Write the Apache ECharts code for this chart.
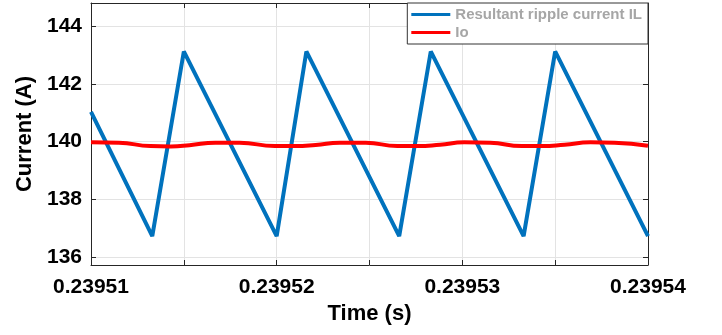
<!DOCTYPE html>
<html>
<head>
<meta charset="utf-8">
<script src="https://cdn.jsdelivr.net/npm/echarts@6/dist/echarts.min.js"></script>
<style>
html, body { margin: 0; padding: 0; background: #fff; }
#chart { width: 722px; height: 335px; }
</style>
</head>
<body>
<div id="chart"></div>
<script>
// ripple current (blue), time in s
var rippleTime = [0.2395100, 0.2395133, 0.2395150, 0.2395200, 0.2395216, 0.2395266, 0.2395283, 0.2395333, 0.2395350, 0.2395400];
var rippleVal = [141.03, 136.72, 143.12, 136.72, 143.12, 136.72, 143.12, 136.72, 143.12, 136.72];

// output current Io (red)
var ioTime = [0.2395100, 0.2395115, 0.2395132, 0.2395143, 0.2395153, 0.2395167, 0.2395180, 0.2395199, 0.2395210, 0.2395221, 0.2395234, 0.2395248,
    0.2395265, 0.2395276, 0.2395288, 0.2395301, 0.2395315, 0.2395332, 0.2395343, 0.2395355, 0.2395369, 0.2395382, 0.2395400];
var ioVal = [139.97, 139.96, 139.84, 139.83, 139.87, 139.96, 139.96, 139.84, 139.84, 139.88, 139.96, 139.96,
    139.84, 139.84, 139.89, 139.97, 139.96, 139.84, 139.84, 139.89, 139.97, 139.96, 139.85];

var xTicks = [0.23951, 0.239515, 0.23952, 0.239525, 0.23953, 0.239535, 0.23954];
var xLabels = [0.23951, 0.23952, 0.23953, 0.23954];
var yTicks = [136, 138, 140, 142, 144];

function pairs(xs, ys) {
    return xs.map(function (x, i) { return [x, ys[i]]; });
}

var axisColor = '#262626';
var labelFont = { color: '#000', fontSize: 21, fontWeight: 'bold', fontFamily: 'Liberation Sans, Arial, sans-serif' };

var chart = echarts.init(document.getElementById('chart'));
chart.setOption({
    animation: false,
    backgroundColor: '#fff',
    grid: { left: 91, right: 74, top: 3, bottom: 70 },
    legend: {
        right: 74,
        top: 3,
        orient: 'vertical',
        backgroundColor: '#fff',
        borderColor: '#333',
        borderWidth: 1,
        borderRadius: 0,
        padding: [4, 6, 4, 4],
        itemGap: 3,
        itemWidth: 39,
        itemHeight: 3,
        icon: 'rect',
        textStyle: { color: '#a6a6a6', fontSize: 15, fontWeight: 'bold', fontFamily: 'Liberation Sans, Arial, sans-serif' },
        data: ['Resultant ripple current IL', 'Io']
    },
    xAxis: [{
        type: 'value',
        min: 0.23951,
        max: 0.23954,
        name: 'Time (s)',
        nameLocation: 'middle',
        nameGap: 38,
        nameTextStyle: { color: '#000', fontSize: 22, fontWeight: 'bold', fontFamily: 'Liberation Sans, Arial, sans-serif' },
        axisLine: { lineStyle: { color: axisColor, width: 1 } },
        axisTick: { inside: true, length: 5, customValues: xTicks, lineStyle: { color: axisColor } },
        axisLabel: Object.assign({
            margin: 12,
            customValues: xLabels,
            formatter: function (v) { return v.toFixed(5); }
        }, labelFont),
        splitLine: { show: true, lineStyle: { color: '#e3e3e3', width: 1 } }
    }, {
        type: 'value',
        position: 'top',
        min: 0.23951,
        max: 0.23954,
        axisLine: { lineStyle: { color: axisColor, width: 1 } },
        axisTick: { inside: true, length: 5, customValues: xTicks, lineStyle: { color: axisColor } },
        axisLabel: { show: false },
        splitLine: { show: false }
    }],
    yAxis: [{
        type: 'value',
        min: 135.72,
        max: 144.8,
        name: 'Current (A)',
        nameLocation: 'middle',
        nameGap: 52,
        nameTextStyle: { color: '#000', fontSize: 22, fontWeight: 'bold', fontFamily: 'Liberation Sans, Arial, sans-serif' },
        axisLine: { show: true, lineStyle: { color: axisColor, width: 1 } },
        axisTick: { show: true, inside: true, length: 5, customValues: yTicks, lineStyle: { color: axisColor } },
        axisLabel: Object.assign({ margin: 9, customValues: yTicks }, labelFont),
        splitLine: { show: true, lineStyle: { color: '#e3e3e3', width: 1 } }
    }, {
        type: 'value',
        position: 'right',
        min: 135.72,
        max: 144.8,
        axisLine: { show: true, lineStyle: { color: axisColor, width: 1 } },
        axisTick: { show: true, inside: true, length: 5, customValues: yTicks, lineStyle: { color: axisColor } },
        axisLabel: { show: false },
        splitLine: { show: false }
    }],
    series: [{
        name: 'Resultant ripple current IL',
        type: 'line',
        data: pairs(rippleTime, rippleVal),
        showSymbol: false,
        color: '#0072bd',
        lineStyle: { color: '#0072bd', width: 4 },
        z: 2
    }, {
        name: 'Io',
        type: 'line',
        data: pairs(ioTime, ioVal),
        smooth: 0.5,
        showSymbol: false,
        color: '#ff0000',
        lineStyle: { color: '#ff0000', width: 4 },
        z: 3
    }]
});
</script>
</body>
</html>
